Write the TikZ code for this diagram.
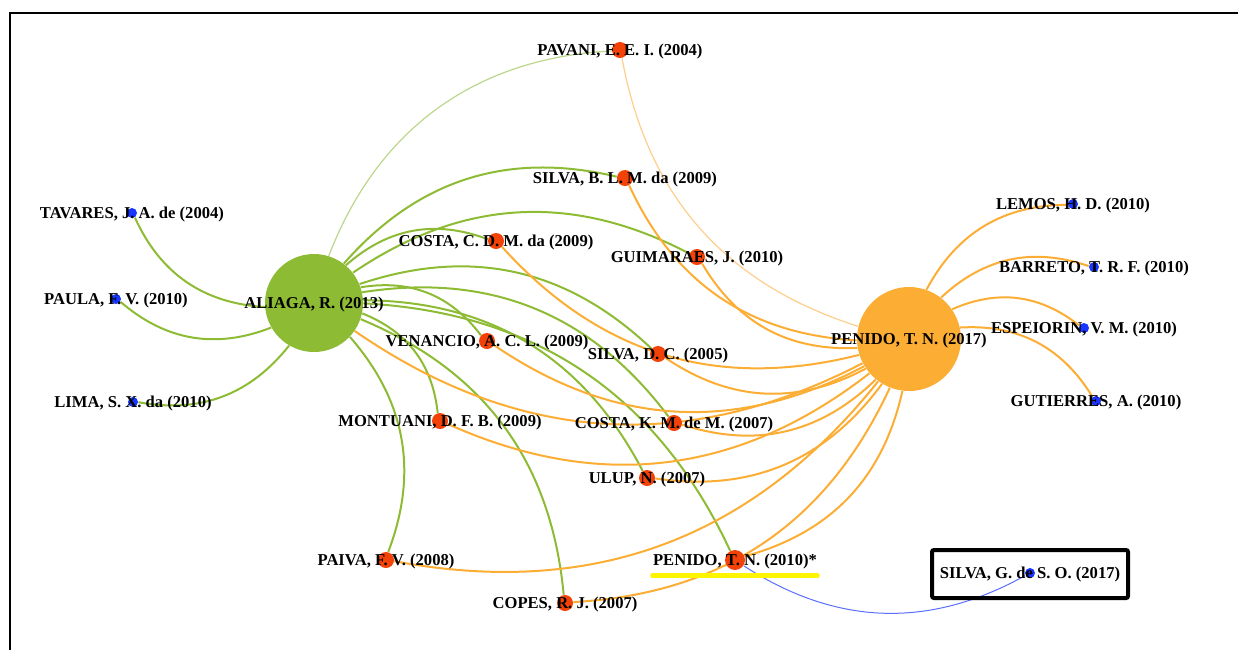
\documentclass[tikz,border=0pt]{standalone}
\usepackage{fontspec}
\setmainfont{Liberation Serif}
\usetikzlibrary{backgrounds}

\definecolor{hubgreen}{RGB}{141,187,52}
\definecolor{huborange}{RGB}{252,173,52}
\definecolor{citered}{RGB}{242,66,8}
\definecolor{citeblue}{RGB}{24,54,255}
\definecolor{palegreen}{RGB}{188,214,140}
\definecolor{paleorange}{RGB}{253,206,140}
\definecolor{edgeblue}{RGB}{90,110,255}
\definecolor{markyellow}{RGB}{255,245,0}

\begin{document}
\begin{tikzpicture}[x=0.5pt, y=0.5pt]
    \tikzstyle{hub} = [circle, inner sep=0pt, minimum size=49pt]
    \tikzstyle{cited} = [circle, inner sep=0pt, minimum size=8pt, fill=citered]
    \tikzstyle{leaf} = [circle, inner sep=0pt, minimum size=5pt, fill=citeblue]
    \tikzstyle{lbl} = [inner sep=0pt, yshift=-0.8pt, font=\bfseries\fontsize{8.3}{9}\selectfont]
    \tikzstyle{gedge} = [draw=hubgreen, line width=1pt]
    \tikzstyle{oedge} = [draw=huborange, line width=1pt]
    \tikzstyle{bedge} = [draw=edgeblue, line width=0.5pt]
    \tikzstyle{hilite} = [draw=markyellow, line width=2.5pt, line cap=round]
    \tikzstyle{hlbox} = [rectangle, draw=black, line width=2pt, rounded corners=1pt, minimum width=98pt, minimum height=24pt]

    \useasboundingbox (0,0) rectangle (1238,-650);
    \draw[line width=0.9pt] (10,-650) -- (10,-13) -- (1238,-13);

    % hubs
    \node[hub, fill=hubgreen] (aliaga) at (314,-303) {};
    \node[hub, fill=huborange, minimum size=52pt] (penido) at (909,-339) {};

    % shared references
    \node[cited] (pavani) at (620,-50) {};
    \node[cited] (silvabl) at (625,-178) {};
    \node[cited] (costacd) at (496,-241) {};
    \node[cited] (guimaraes) at (697,-257) {};
    \node[cited] (venancio) at (487,-341) {};
    \node[cited] (silvadc) at (658,-354) {};
    \node[cited] (montuani) at (440,-421) {};
    \node[cited] (costakm) at (674,-423) {};
    \node[cited] (ulup) at (647,-478) {};
    \node[cited] (paiva) at (386,-560) {};
    \node[cited, minimum size=10pt] (penidoold) at (735,-560) {};
    \node[cited] (copes) at (565,-603) {};

    % single references
    \node[leaf] (tavares) at (132,-213) {};
    \node[leaf] (paula) at (116,-299) {};
    \node[leaf] (lima) at (133,-402) {};
    \node[leaf] (lemos) at (1073,-204) {};
    \node[leaf] (barreto) at (1094,-267) {};
    \node[leaf] (espeiorin) at (1084,-328) {};
    \node[leaf] (gutierres) at (1096,-401) {};
    \node[leaf] (silvag) at (1030,-573) {};

    % edges behind the nodes
    \begin{scope}[on background layer]
        \foreach \t in {tavares,paula,lima,silvabl,costacd,guimaraes,venancio,silvadc,costakm,ulup,penidoold,montuani,paiva,copes}
            \draw[gedge] (aliaga) to[bend left=31] (\t);
        \draw[gedge, draw=palegreen, line width=0.6pt] (aliaga) to[bend left=33] (pavani);
        \foreach \t in {silvabl,guimaraes,costacd,venancio,silvadc,montuani,costakm,ulup,paiva,penidoold,copes,aliaga,lemos,barreto,espeiorin,gutierres}
            \draw[oedge] (penido) to[bend left=31] (\t);
        \draw[oedge, draw=paleorange, line width=0.6pt] (penido) to[bend left=31] (pavani);
        \draw[bedge] (silvag) to[bend left=31] (penidoold);
    \end{scope}

    % labels
    \node[lbl] (lbaliaga) at (aliaga) {ALIAGA, R. (2013)};
    \node[lbl] (lbpenido) at (penido) {PENIDO, T. N. (2017)};
    \node[lbl] (lbpavani) at (pavani) {PAVANI, E. E. I. (2004)};
    \node[lbl] (lbsilvabl) at (silvabl) {SILVA, B. L. M. da (2009)};
    \node[lbl] (lbcostacd) at (costacd) {COSTA, C. D. M. da (2009)};
    \node[lbl] (lbguimaraes) at (guimaraes) {GUIMARAES, J. (2010)};
    \node[lbl] (lbvenancio) at (venancio) {VENANCIO, A. C. L. (2009)};
    \node[lbl] (lbsilvadc) at (silvadc) {SILVA, D. C. (2005)};
    \node[lbl] (lbmontuani) at (montuani) {MONTUANI, D. F. B. (2009)};
    \node[lbl] (lbcostakm) at (costakm) {COSTA, K. M. de M. (2007)};
    \node[lbl] (lbulup) at (ulup) {ULUP, N. (2007)};
    \node[lbl] (lbpaiva) at (paiva) {PAIVA, F. V. (2008)};
    \node[lbl] (lbpenidoold) at (penidoold) {PENIDO, T. N. (2010)*};
    \node[lbl] (lbcopes) at (copes) {COPES, R. J. (2007)};
    \node[lbl] (lbtavares) at (tavares) {TAVARES, J. A. de (2004)};
    \node[lbl] (lbpaula) at (paula) {PAULA, F. V. (2010)};
    \node[lbl] (lblima) at (lima) {LIMA, S. X. da (2010)};
    \node[lbl] (lblemos) at (lemos) {LEMOS, H. D. (2010)};
    \node[lbl] (lbbarreto) at (barreto) {BARRETO, T. R. F. (2010)};
    \node[lbl] (lbespeiorin) at (espeiorin) {ESPEIORIN, V. M. (2010)};
    \node[lbl] (lbgutierres) at (gutierres) {GUTIERRES, A. (2010)};
    \node[lbl] (lbsilvag) at (silvag) {SILVA, G. de S. O. (2017)};

    % highlights
    \draw[hilite] ([yshift=-3.2pt]lbpenidoold.south west) -- ([yshift=-3.2pt]lbpenidoold.south east);
    \node[hlbox] (boxsilvag) at (1030,-574) {};
\end{tikzpicture}
\end{document}
